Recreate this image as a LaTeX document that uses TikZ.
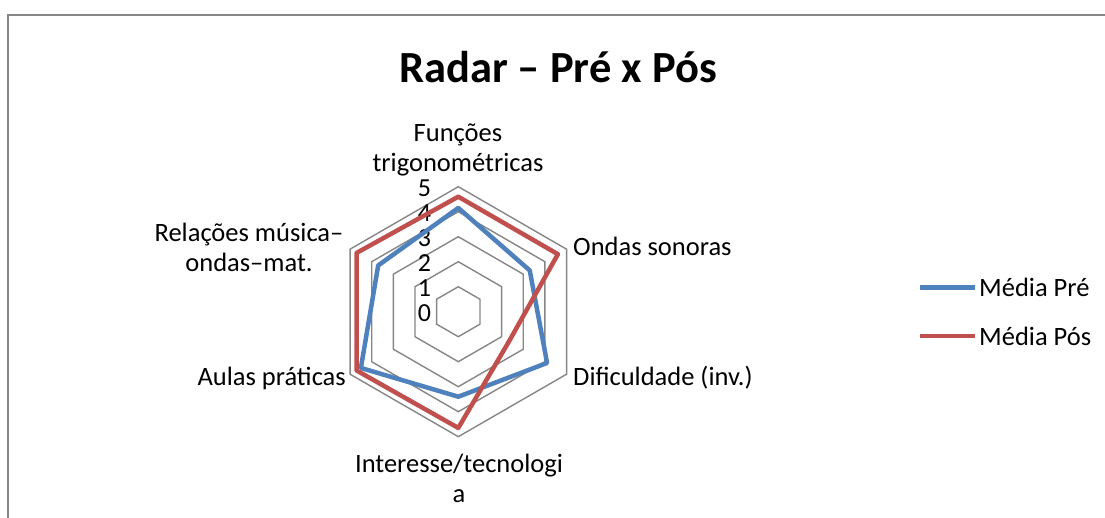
\documentclass[tikz,border=0pt]{standalone}
\usepackage{fontspec}
\setmainfont{Carlito}
\usepackage{tikz}
\tikzset{>=latex}
\definecolor{preblue}{HTML}{4F81BD}
\definecolor{posred}{HTML}{C0504D}
\definecolor{gridgray}{HTML}{868686}
\tikzset{
  gridline/.style={gridgray, line width=1.4},
  preline/.style={preblue, line width=4.5, line join=round},
  posline/.style={posred, line width=4.5, line join=round},
  lbl/.style={font=\fontsize{26.5}{30}\selectfont, inner sep=0pt, align=center},
  tick/.style={font=\fontsize{26}{26}\selectfont, inner sep=0pt, anchor=east}
}

\begin{document}
\begin{tikzpicture}[x=1pt,y=-1pt]
            \useasboundingbox (0,0) rectangle (1105,518);
            \draw[gridgray, line width=2] (8.3,530) -- (8.3,15) -- (1115,15);
            \node[font=\bfseries\fontsize{44.5}{50}\selectfont] (title) at (558,67) {Radar -- Pré x Pós};
            \begin{scope}[shift={(458.3,311.7)}, x=25pt, y=25pt]
            \foreach \r in {1,...,5}
              \draw[gridline] (90:\r) -- (30:\r) -- (-30:\r) -- (-90:\r) -- (-150:\r) -- (150:\r) -- cycle;
            \foreach \r in {0,...,5}
              \node[tick] (t\r) at (-1.08,\r-0.05) {\r};
            \coordinate (pre1) at (90:4.15);
            \coordinate (pre2) at (30:3.3);
            \coordinate (pre3) at (-30:4.1);
            \coordinate (pre4) at (-90:3.4);
            \coordinate (pre5) at (-150:4.5);
            \coordinate (pre6) at (150:3.7);
            \coordinate (pos1) at (90:4.6);
            \coordinate (pos2) at (30:4.6);
            \coordinate (pos3) at (-30:2.35);
            \coordinate (pos4) at (-90:4.65);
            \coordinate (pos5) at (-150:4.7);
            \coordinate (pos6) at (150:4.7);
            \draw[preline] (pre1) -- (pre2) -- (pre3) -- (pre4) -- (pre5) -- (pre6) -- cycle;
            \draw[posline] (pos1) -- (pos2) -- (pos3) -- (pos4) -- (pos5) -- (pos6) -- cycle;
            \end{scope}
            \node[lbl] (funcoes) at (458,150) {Funções\\trigonométricas};
            \node[lbl, anchor=west] (ondas) at (573,246) {Ondas sonoras};
            \node[lbl, anchor=west] (dific) at (573,378) {Dificuldade (inv.)};
            \node[lbl] (interesse) at (459,478) {Interesse/tecnologi\\a};
            \node[lbl, anchor=east] (aulas) at (346,378) {Aulas práticas};
            \node[lbl] (relacoes) at (249,247) {Relações música--\\ondas--mat.};
            \coordinate (lgpreA) at (920,287.3);
            \coordinate (lgpreB) at (975,287.3);
            \coordinate (lgposA) at (920,336);
            \coordinate (lgposB) at (975,336);
            \draw[preline] (lgpreA) -- (lgpreB);
            \draw[posline] (lgposA) -- (lgposB);
            \node[lbl, anchor=west] (lgpre) at (979,287.3) {Média Pré};
            \node[lbl, anchor=west] (lgpos) at (979,336) {Média Pós};
        \end{tikzpicture}
\end{document}
